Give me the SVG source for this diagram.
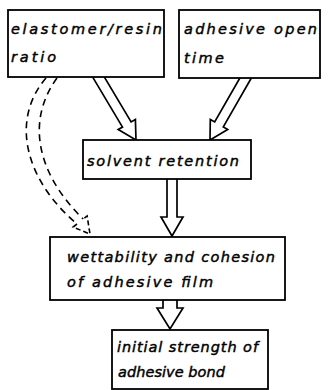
<svg xmlns="http://www.w3.org/2000/svg" width="328" height="390" viewBox="0 0 328 390">
<style>
.box{fill:#fff;stroke:#000;stroke-width:1.8}
.t{font-family:"DejaVu Sans","Liberation Sans",sans-serif;font-size:14.5px;font-style:italic;font-weight:normal;fill:#000;stroke:#000;stroke-width:0.45}
.ha{fill:#fff;stroke:#000;stroke-width:1.7;stroke-linejoin:miter}
.da{fill:none;stroke:#000;stroke-width:1.6;stroke-dasharray:7 5}
.dh{fill:none;stroke:#000;stroke-width:1.6;stroke-dasharray:5 3}
</style>
<rect width="328" height="390" fill="#fff"/>
<g id="connectors">
<polygon class="ha" points="90,72.6 122.5,127.1 118.2,129.6 136,140 135.4,119.4 131.1,121.9 98.6,67.4"/>
<polygon class="ha" points="245.9,67.5 214.7,121.9 210.3,119.4 210,140 227.7,129.4 223.3,126.9 254.5,72.5"/>
<polygon class="ha" points="167,170 167,217 161,217 172,236 183,217 177,217 177,170"/>
<polygon class="ha" points="163,290 163,308 157,308 170,329 183,308 177,308 177,290"/>
<path class="da" d="M46,78 C10,120 25,180 77,224"/>
<path class="da" d="M57,78 C25,122 38,175 83.2,219"/>
<polyline class="dh" points="77,224 73.1,227.1 90,234 87.1,215.9 83.2,219"/>
</g>
<g id="n1">
<rect class="box" x="8" y="10" width="156" height="67"/>
<text class="t" x="11" y="34" textLength="151" lengthAdjust="spacing">elastomer/resin</text>
<text class="t" x="11" y="62" textLength="45" lengthAdjust="spacing">ratio</text>
</g>
<g id="n2">
<rect class="box" x="179" y="10" width="141" height="68"/>
<text class="t" x="184" y="34" textLength="133" lengthAdjust="spacing">adhesive open</text>
<text class="t" x="184" y="63" textLength="40" lengthAdjust="spacing">time</text>
</g>
<g id="n3">
<rect class="box" x="83" y="140" width="168" height="39"/>
<text class="t" x="87" y="166" textLength="152" lengthAdjust="spacing">solvent retention</text>
</g>
<g id="n4">
<rect class="box" x="50" y="237" width="235" height="63"/>
<text class="t" x="67" y="262" textLength="208" lengthAdjust="spacing">wettability and cohesion</text>
<text class="t" x="67" y="287" textLength="146" lengthAdjust="spacing">of adhesive film</text>
</g>
<g id="n5">
<rect class="box" x="112" y="330" width="156" height="59"/>
<text class="t" x="117" y="352" textLength="141" lengthAdjust="spacing">initial strength of</text>
<text class="t" x="118" y="377" textLength="107" lengthAdjust="spacing">adhesive bond</text>
</g>
</svg>
